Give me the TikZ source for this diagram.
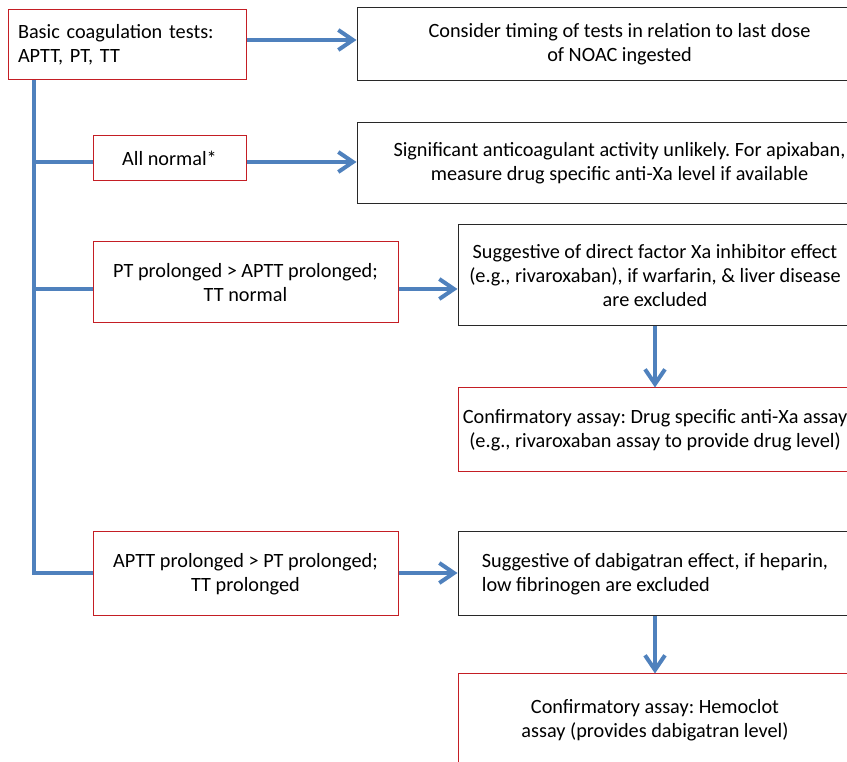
\documentclass[tikz,border=0pt]{standalone}
\usepackage{fontspec}
\setmainfont{Carlito}
\usetikzlibrary{arrows.meta}
\definecolor{flowB}{RGB}{79,129,189}
\definecolor{boxR}{RGB}{196,30,36}
\definecolor{boxK}{RGB}{40,40,40}
\frenchspacing

\begin{document}
\begin{tikzpicture}[x=0.75pt,y=-0.75pt,
  box/.style={draw,line width=0.75pt,inner sep=0pt,align=center,font=\fontsize{15.2}{18}\selectfont},
  redbox/.style={box,draw=boxR},
  blackbox/.style={box,draw=boxK},
  flow/.style={flowB,line width=3pt},
  flowarrow/.style={flow,-{Straight Barb[length=11pt,width=15pt]}}]
\useasboundingbox (0,0) rectangle (847,762);
\clip (0,0) rectangle (847,762);
% test results (left side)
\node[redbox,minimum width=178.5pt,minimum height=52.5pt,text width=163.5pt,align=left] (tests) at (127,45) {Basic coagulation tests:\\APTT, PT, TT};
\node[redbox,minimum width=114.75pt,minimum height=33.75pt] (normal) at (169.5,158.5) {All normal*};
\node[redbox,minimum width=228.75pt,minimum height=60.75pt] (ptlong) at (245.5,282.5) {PT prolonged > APTT prolonged;\\TT normal};
\node[redbox,minimum width=228.75pt,minimum height=63pt] (aptlong) at (245.5,574) {APTT prolonged > PT prolonged;\\TT prolonged};
% interpretation (right side)
\node[blackbox,minimum width=393.75pt,minimum height=54.75pt] (timing) at (619.5,44.5) {Consider timing of tests in relation to last dose\\of NOAC ingested};
\node[blackbox,minimum width=393.75pt,minimum height=60.75pt] (unlikely) at (619.5,163.5) {Significant anticoagulant activity unlikely. For apixaban,\\measure drug specific anti-Xa level if available};
\node[blackbox,minimum width=295.5pt,minimum height=75.75pt] (xaeffect) at (655,275.5) {Suggestive of direct factor Xa inhibitor effect\\(e.g., rivaroxaban), if warfarin, \& liver disease\\are excluded};
\node[redbox,minimum width=295.5pt,minimum height=63pt] (xaassay) at (655,430) {Confirmatory assay: Drug specific anti-Xa assay\\(e.g., rivaroxaban assay to provide drug level)};
\node[blackbox,minimum width=295.5pt,minimum height=63pt,align=left] (dabieffect) at (655,574) {Suggestive of dabigatran effect, if heparin,\\low fibrinogen are excluded};
\node[redbox,minimum width=295.5pt,minimum height=69pt] (hemoclot) at (655,720) {Confirmatory assay: Hemoclot\\assay (provides dabigatran level)};
% connectors
\coordinate (trunk) at (34,0);
\coordinate (row1) at (0,40);
\coordinate (row2) at (0,162);
\coordinate (row3) at (0,289);
\coordinate (row4) at (0,573);
\draw[flow] (trunk |- tests.south) -- (trunk |- row4) -- (aptlong.west |- row4);
\draw[flow] (trunk |- row2) -- (normal.west |- row2);
\draw[flow] (trunk |- row3) -- (ptlong.west |- row3);
\draw[flowarrow] (tests.east |- row1) -- (timing.west |- row1);
\draw[flowarrow] (normal.east |- row2) -- (unlikely.west |- row2);
\draw[flowarrow] (ptlong.east |- row3) -- (xaeffect.west |- row3);
\draw[flowarrow] (aptlong.east |- row4) -- (dabieffect.west |- row4);
\draw[flowarrow] (xaeffect) -- (xaassay);
\draw[flowarrow] (dabieffect) -- (hemoclot);
\end{tikzpicture}
\end{document}
